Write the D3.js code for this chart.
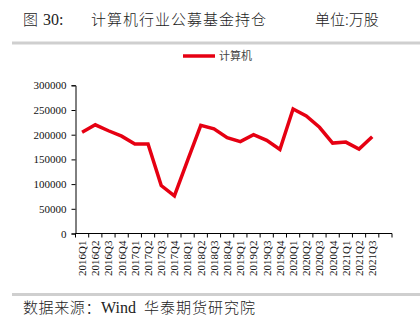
<!DOCTYPE html>
<html>
<head>
<meta charset="utf-8">
<script src="https://cdn.jsdelivr.net/npm/d3@7"></script>
<style>
  html, body { margin: 0; padding: 0; background: #fff; }
  svg { display: block; }
</style>
</head>
<body>
<svg id="chart" width="420" height="324"></svg>
<script>
// Quarterly labels and holdings (万股) of the computer sector in public funds
const categories = [
  "2016Q1","2016Q2","2016Q3","2016Q4","2017Q1","2017Q2","2017Q3","2017Q4",
  "2018Q1","2018Q2","2018Q3","2018Q4","2019Q1","2019Q2","2019Q3","2019Q4",
  "2020Q1","2020Q2","2020Q3","2020Q4","2021Q1","2021Q2","2021Q3"
];
const holdings = [
  205000, 220000, 208000, 197000, 181000, 181000, 97000, 76000,
  148000, 219000, 212000, 194000, 186000, 200000, 188500, 170000,
  252000, 238000, 215000, 183000, 185000, 171000, 196000
];
const yTicks = [0, 50000, 100000, 150000, 200000, 250000, 300000];
const seriesName = "计算机";
const titleMain = "计算机行业公募基金持仓";
const titleUnit = "单位:万股";

const RED = "#e60012";
const serif = "'Liberation Serif', 'Times New Roman', serif";
const cjk = "'Noto Sans CJK SC', sans-serif";

const svg = d3.select("#chart");
const plot = { left: 75.5, right: 392, top: 85.3, bottom: 233.5 };

// One extra empty slot after the last quarter, as on the axis
const slots = d3.range(categories.length + 1);
const x = d3.scaleBand().domain(slots).range([plot.left, plot.right]);
const y = d3.scaleLinear().domain([0, 300000]).range([plot.bottom, plot.top]);

// Header
const t1 = svg.append("text").attr("x", 23).attr("y", 25)
  .attr("font-size", 15).attr("fill", "#222");
t1.append("tspan").attr("font-family", cjk).attr("font-weight", 300).text("图");
t1.append("tspan").attr("dx", 5).attr("font-family", serif).attr("font-size", 16).text("30:");
svg.append("text").attr("x", 91).attr("y", 25)
  .attr("font-family", cjk).attr("font-weight", 300).attr("font-size", 15).attr("fill", "#222")
  .attr("letter-spacing", 1)
  .text(titleMain);
svg.append("text").attr("x", 315).attr("y", 25)
  .attr("font-family", cjk).attr("font-weight", 300).attr("font-size", 15).attr("fill", "#222")
  .text(titleUnit);
svg.append("rect").attr("x", 12).attr("y", 41.5).attr("width", 408).attr("height", 3)
  .attr("fill", "#cfcfcf");

// Footer
svg.append("rect").attr("x", 12).attr("y", 293).attr("width", 408).attr("height", 3)
  .attr("fill", "#cfcfcf");
const src = svg.append("text").attr("x", 23).attr("y", 313)
  .attr("font-size", 15).attr("fill", "#222");
src.append("tspan").attr("font-family", cjk).attr("font-weight", 300).attr("letter-spacing", 0.6).text("数据来源：");
src.append("tspan").attr("font-family", serif).attr("font-size", 16).text("Wind");
src.append("tspan").attr("dx", 8).attr("font-family", cjk).attr("font-weight", 300).attr("letter-spacing", 1).text("华泰期货研究院");

// Legend
const lg = svg.append("g").attr("transform", "translate(183,56)");
lg.append("line").attr("x1", 0).attr("x2", 32).attr("y1", 0).attr("y2", 0)
  .attr("stroke", RED).attr("stroke-width", 3.5);
lg.append("text").attr("x", 36).attr("y", 0).attr("dy", "0.35em")
  .attr("font-family", cjk).attr("font-size", 11).attr("fill", "#444")
  .text(seriesName);

// Y axis
const yAxis = svg.append("g")
  .attr("transform", `translate(${plot.left},0)`)
  .call(d3.axisLeft(y).tickValues(yTicks).tickSize(4).tickPadding(5).tickFormat(d3.format("d")));
yAxis.attr("font-family", serif);
yAxis.select(".domain").attr("stroke", "#000");
yAxis.selectAll(".tick line").attr("stroke", "#000");
yAxis.selectAll("text").attr("font-family", serif).attr("font-size", 11).attr("fill", "#111");

// X axis: ticks on category boundaries, labels rotated
const xg = svg.append("g").attr("transform", `translate(0,${plot.bottom})`);
xg.append("line").attr("x1", plot.left).attr("x2", plot.right)
  .attr("stroke", "#000");
xg.selectAll("line.tk").data(d3.range(slots.length + 1)).join("line")
  .attr("class", "tk")
  .attr("x1", i => plot.left + i * x.bandwidth())
  .attr("x2", i => plot.left + i * x.bandwidth())
  .attr("y1", 0).attr("y2", 4).attr("stroke", "#000");
xg.selectAll("text").data(categories).join("text")
  .attr("transform", (d, i) => `translate(${x(i) + x.bandwidth() / 2},7) rotate(-90)`)
  .attr("text-anchor", "end").attr("dy", "0.35em")
  .attr("font-family", serif).attr("font-size", 11).attr("fill", "#111")
  .text(d => d);

// Series line
const line = d3.line()
  .x((d, i) => x(i) + x.bandwidth() / 2)
  .y(d => y(d));
svg.append("path").datum(holdings)
  .attr("d", line)
  .attr("fill", "none").attr("stroke", RED).attr("stroke-width", 3.5)
  .attr("stroke-linejoin", "miter").attr("stroke-linecap", "butt");
</script>
</body>
</html>
